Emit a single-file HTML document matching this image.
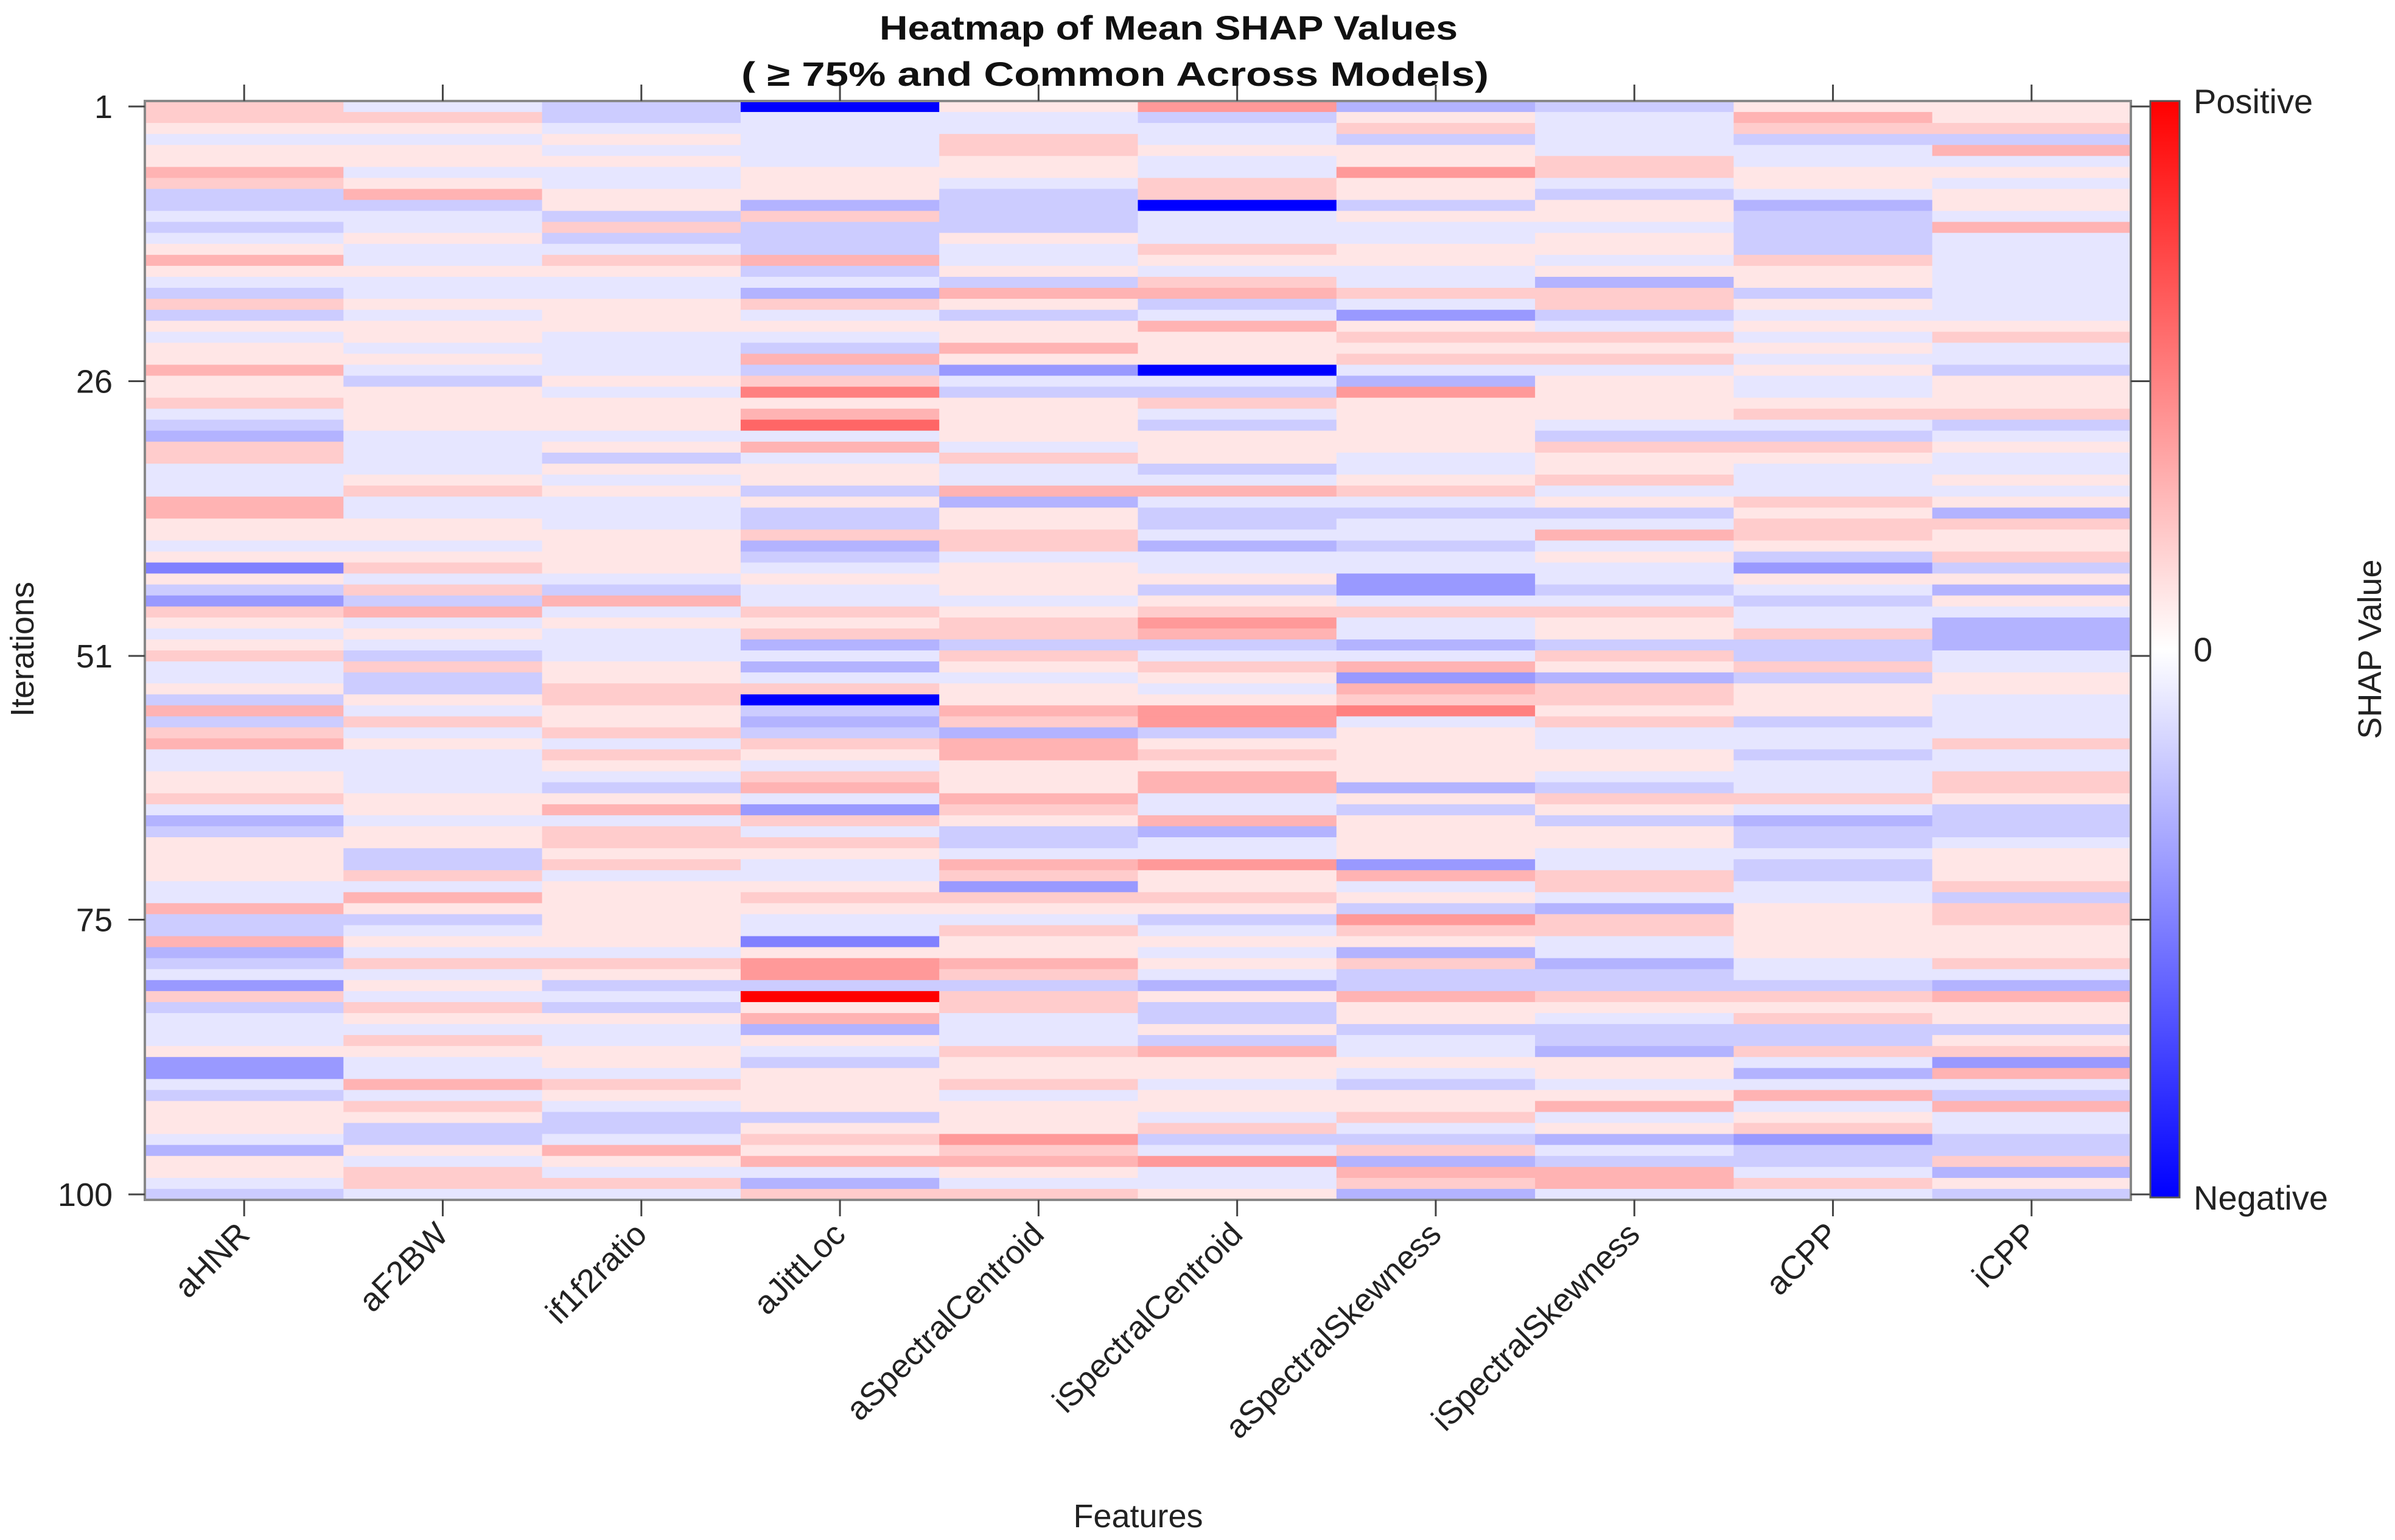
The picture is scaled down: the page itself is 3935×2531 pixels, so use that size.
<!DOCTYPE html>
<html><head><meta charset="utf-8"><style>
html,body{margin:0;padding:0;background:#fff;}
svg{display:block;font-family:"Liberation Sans",Arial,sans-serif;}
</style></head><body>
<svg id="chart" width="3935" height="2531" viewBox="0 0 3935 2531" xmlns="http://www.w3.org/2000/svg">
<rect x="0" y="0" width="3935" height="2531" fill="#fff"/>
<defs>
<linearGradient id="cbGrad" x1="0" y1="1" x2="0" y2="0">
<stop offset="0" stop-color="#0000ff"/><stop offset="0.5" stop-color="#ffffff"/><stop offset="1" stop-color="#ff0000"/>
</linearGradient>
</defs>
<g id="cells"></g>
<g id="axes"></g>
<text x="1920" y="65" text-anchor="middle" font-weight="bold" font-size="56" textLength="950" lengthAdjust="spacingAndGlyphs" fill="#111">Heatmap of Mean SHAP Values</text>
<text x="1832" y="141" text-anchor="middle" font-weight="bold" font-size="56" textLength="1228" lengthAdjust="spacingAndGlyphs" fill="#111">( ≥ 75% and Common Across Models)</text>
<text x="1870" y="2510" text-anchor="middle" font-size="54" fill="#222">Features</text>
<text transform="translate(55,1067) rotate(-90)" text-anchor="middle" font-size="54" fill="#222">Iterations</text>
<rect x="3533" y="166" width="48" height="1802" fill="url(#cbGrad)" stroke="#555" stroke-width="3"/>
<text x="3604" y="186" font-size="56" fill="#222">Positive</text>
<text x="3604" y="1087" font-size="56" fill="#222">0</text>
<text x="3604" y="1988" font-size="56" fill="#222">Negative</text>
<text transform="translate(3912,1067) rotate(-90)" text-anchor="middle" font-size="54" fill="#222">SHAP Value</text>
</svg>
<script>
const features = ["aHNR","aF2BW","if1f2ratio","aJittLoc","aSpectralCentroid","iSpectralCentroid","aSpectralSkewness","iSpectralSkewness","aCPP","iCPP"];
// values encoded per column: digits 1-9 = +0.1..+0.9, X = +1, a..j = -0.1..-1.0, rows 1..100
const colAHNR = "221a1132bbaba131ab2b1a113"+"112abc22aaa3311a1e1bd21a1"+"2aa1b3b23aa112acb1111aa3b"+"b3cbad2baaa1ddab111ac11ab";
const colAF2BW = "a21a11a13baa1aa1aa1a11a1a"+"b1111aaaa12aa11a12a2b3a1a"+"b2bb1a2a1aaaa11a11bb2a31b"+"a1a2a1a21a21aa3a21bb1a22a";
const colIF1F2 = "bba1a1aa11b2ba21aa111aaaa"+"1a111a1b1a1aaa1111ab3a1aa"+"a1122112a21ab13a2212a1111"+"11a21bab1aa11a21abba31a2a";
const colAJitt = "jaaaaa111c2bbb3bac2a1ab3b"+"25136a3a11b1bb2cba1aa212c"+"aca2jbcb21a23ad2a21aa121a"+"ae144bX13c1ab1111b1213ac2";
const colASCent = "1aa2211abbbb1aa1b31b1131d"+"ab1111a2aa3c1122a111a122b"+"21a1132c33111321bba32d21a"+"21132b22aaa2112a1114231a2";
const colISCent = "4baa1aa22jaaa21a23ba3111j"+"ab2ab111ba3abbacaa1b1243b"+"a21a144b12133aa3caa41121b"+"a1a1ac1bb1b311a11a2ba4aa1";
const colASSkew = "c12b11411b1aa11aa2ad1212a"+"c411111aa12abaabaadda2aac"+"a3d325a11111c1b1111d3a1b4"+"21c2bb311baa1ab112ab2c32c";
const colISSkew = "baaaa22ab11a11a1c22ba212a"+"1111ab2112a1ba3a1aaba211b"+"21c2212aa11ab21b11aa22ac2"+"2aacbb21abbc11a13a1cab33a";
const colACPP = "132baa11acbbbb211b1a1a1a1"+"aa12ab21aaa21221bd1abaa2b"+"b2b111baabaaa2acbbabbaa11"+"111aab212bb2aca3a12dbba2a";
const colICPP = "112b3a1a11a3aaaaaaaa12aab"+"1112ba1aa1a1c2112b1c1accc"+"aa11aaaa2aa221bbba1112b22"+"1112ac311b12d3ab3aabb2c1b";
const columnCodes = [colAHNR,colAF2BW,colIF1F2,colAJitt,colASCent,colISCent,colASSkew,colISSkew,colACPP,colICPP];
const yTickLabels = [1,26,51,75,100];

function decode(ch){
  if(ch==='X') return 1;
  if(ch>='0'&&ch<='9') return parseInt(ch,10)/10;
  return -(ch.charCodeAt(0)-96)/10;
}
const values = columnCodes.map(s => s.split('').map(decode));
const nRows = 100;
const L=238, R=3501, T=166, B=1972;
const colW=(R-L)/features.length, rowH=(B-T)/nRows;
const xPos = c => L + c*colW;
const yPos = r => T + r*rowH;
function color(v){
  v=Math.max(-1,Math.min(1,v));
  if(v>=0){const g=Math.round(255*(1-v));return `rgb(255,${g},${g})`;}
  const g=Math.round(255*(1+v));return `rgb(${g},${g},255)`;
}
const NS="http://www.w3.org/2000/svg";
const cells=document.getElementById('cells');
values.forEach((col,c)=>{
  col.forEach((v,r)=>{
    const rect=document.createElementNS(NS,'rect');
    rect.setAttribute('x',xPos(c));
    rect.setAttribute('y',yPos(r));
    rect.setAttribute('width',colW+0.6);
    rect.setAttribute('height',rowH+0.6);
    rect.setAttribute('fill',color(v));
    
    
    cells.appendChild(rect);
  });
});
const axes=document.getElementById('axes');
function line(x1,y1,x2,y2,name){
  const l=document.createElementNS(NS,'line');
  l.setAttribute('x1',x1);l.setAttribute('y1',y1);l.setAttribute('x2',x2);l.setAttribute('y2',y2);
  l.setAttribute('stroke','#444');l.setAttribute('stroke-width','3');
  
  
  axes.appendChild(l);
}
const frame=document.createElementNS(NS,'rect');
frame.setAttribute('x',L);frame.setAttribute('y',T);frame.setAttribute('width',R-L);frame.setAttribute('height',B-T);
frame.setAttribute('fill','none');frame.setAttribute('stroke','#888');frame.setAttribute('stroke-width','4');


axes.appendChild(frame);
features.forEach((f,c)=>{
  const cx=xPos(c)+colW/2;
  line(cx,B,cx,B+27,'x-tick');
  line(cx,T-27,cx,T,'x-tick-top');
  const t=document.createElementNS(NS,'text');
  t.setAttribute('transform',`translate(${cx+12},${B+60}) rotate(-45)`);
  t.setAttribute('text-anchor','end');
  t.setAttribute('font-size','54');
  t.setAttribute('fill','#222');
  t.textContent=f;
  
  
  axes.appendChild(t);
});
yTickLabels.forEach(v=>{
  const cy=yPos(v-1)+rowH/2;
  line(L-27,cy,L,cy,'y-tick');
  line(R,cy,3533,cy,'y-tick-right');
  const t=document.createElementNS(NS,'text');
  t.setAttribute('x',185);
  t.setAttribute('y',cy+19);
  t.setAttribute('text-anchor','end');
  t.setAttribute('font-size','54');
  t.setAttribute('fill','#222');
  t.textContent=v;
  
  
  axes.appendChild(t);
});
</script>
</body></html>
